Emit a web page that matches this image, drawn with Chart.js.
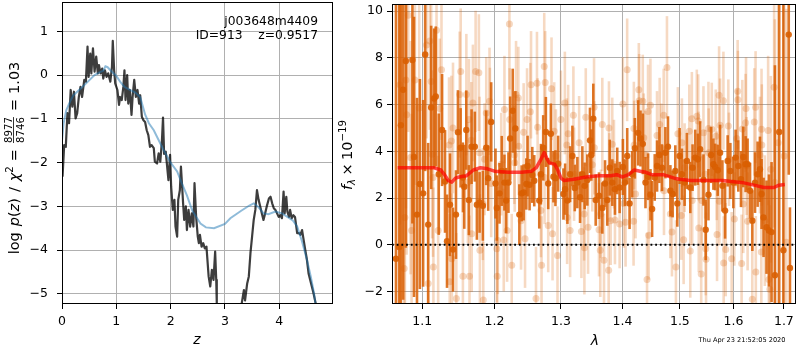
<!DOCTYPE html>
<html>
<head>
<meta charset="utf-8">
<script src="https://cdn.jsdelivr.net/npm/chart.js@4/dist/chart.umd.min.js"></script>
<style>
  html, body { margin: 0; padding: 0; background: #fff; }
  #wrap { position: relative; width: 800px; height: 350px; }
  canvas { position: absolute; top: 0; }
  #pz { left: 0; }
  #spec { left: 330px; }
</style>
</head>
<body>
<div id="wrap">
  <canvas id="pz" width="340" height="350"></canvas>
  <canvas id="spec" width="470" height="350"></canvas>
</div>
<script>
// ---------- redshift probability panel ----------
const zTicks = [0, 1, 2, 3, 4];
const logpTicks = [-5, -4, -3, -2, -1, 0, 1];

// log p(z) from the template fit
const zFit = [0.01,0.04,0.07,0.10,0.13,0.16,0.19,0.22,0.25,0.28,0.31,0.34,0.37,0.41,0.44,0.47,0.49,0.52,0.54,0.57,
  0.60,0.63,0.66,0.68,0.71,0.74,0.76,0.79,0.82,0.85,0.89,0.92,0.935,0.96,0.98,1.02,1.05,1.07,1.10,1.13,
  1.15,1.17,1.20,1.22,1.25,1.28,1.30,1.33,1.36,1.39,1.42,1.44,1.47,1.50,1.53,1.56,1.59,1.62,1.65,1.69,
  1.71,1.75,1.78,1.81,1.84,1.86,1.88,1.91,1.96,1.99,2.01,2.04,2.07,2.09,2.12,2.14,2.17,2.19,2.21,2.23,
  2.25,2.28,2.30,2.33,2.36,2.39,2.42,2.44,2.47,2.50,2.52,2.54,2.57,2.60,2.63,2.66,2.70,2.73,2.76,2.79,
  2.82,2.84,2.85,2.88,2.95,3.05,3.15,3.25,3.29,3.31,3.35,3.37,3.41,3.44,3.47,3.50,3.53,3.56,3.59,3.62,
  3.65,3.68,3.71,3.74,3.77,3.81,3.84,3.87,3.90,3.93,3.96,3.99,4.02,4.05,4.08,4.10,4.13,4.15,4.18,4.20,
  4.23,4.26,4.29,4.33,4.36,4.39,4.42,4.45,4.48,4.51,4.54,4.57,4.60,4.63,4.67,4.69];
const logpFit = [-2.32,-1.6,-1.64,-0.87,-1.1,-0.34,-0.72,-0.38,-0.99,-0.87,-0.50,-0.27,-0.5,-0.11,-0.15,0.65,-0.04,0.49,0.04,0.61,
  0.08,0.42,0.04,0.23,0.04,0.15,-0.08,0.11,-0.04,0.04,-0.15,0.19,0.78,0.11,-0.19,-0.34,-0.68,-0.5,-0.57,-0.27,
  0.11,-0.57,0.0,-0.65,-0.34,-0.91,-0.5,-0.11,-0.5,-0.34,-0.65,-0.46,-0.95,-1.03,-1.07,-1.26,-1.37,-1.64,-1.6,-1.67,
  -1.98,-2.02,-1.79,-1.98,-1.5,-0.97,-1.8,-1.75,-2.4,-1.82,-2.55,-3.08,-2.85,-3.46,-3.69,-2.85,-2.63,-2.09,-2.5,-2.93,
  -3.31,-3.0,-3.54,-3.08,-3.46,-3.16,-3.46,-2.47,-3.24,-3.69,-3.84,-3.65,-3.92,-3.84,-3.96,-3.92,-4.6,-4.83,-4.45,-4.68,
  -4.03,-4.68,-5.21,-6.2,-7.5,-8.0,-7.6,-6.4,-5.6,-5.21,-4.91,-5.15,-4.76,-4.6,-4.07,-3.69,-3.31,-3.08,-2.63,-2.85,
  -3.0,-3.16,-3.31,-3.16,-3.0,-2.82,-2.78,-2.93,-3.04,-3.08,-3.16,-3.24,-3.2,-3.27,-2.66,-3.16,-2.78,-3.12,-3.24,-3.08,
  -3.27,-3.2,-3.24,-3.61,-3.61,-3.65,-3.54,-3.77,-4.0,-4.22,-4.53,-4.68,-4.83,-4.98,-5.21,-5.5];

// smoothed prior-weighted curve
const zSmooth = [0,0.03,0.08,0.15,0.21,0.35,0.5,0.6,0.7,0.76,0.8,0.84,0.9,1.0,1.07,1.15,1.25,1.35,1.44,1.53,
  1.6,1.69,1.87,2.0,2.12,2.2,2.3,2.4,2.55,2.65,2.8,3.0,3.1,3.3,3.45,3.53,3.62,3.71,3.8,3.93,
  4.05,4.15,4.25,4.33,4.42,4.51,4.58,4.64,4.7];
const logpSmooth = [-1.5,-1.1,-0.8,-0.6,-0.46,-0.3,-0.12,0.0,0.07,0.1,0.2,0.18,0.1,-0.02,-0.15,-0.27,-0.34,-0.4,-0.5,-0.9,
  -1.1,-1.26,-1.71,-2.0,-2.2,-2.45,-2.75,-3.1,-3.39,-3.48,-3.5,-3.4,-3.27,-3.1,-2.98,-2.93,-3.02,-3.16,-3.18,-3.12,
  -3.16,-3.24,-3.32,-3.46,-3.8,-4.22,-4.6,-4.98,-5.5];

// ---------- spectrum panel ----------
const lamTicks = [1.1, 1.2, 1.3, 1.4, 1.5, 1.6, 1.7];
const fluxTicks = [-2, 0, 2, 4, 6, 8, 10];

// primary-orientation spectrum
const lamA = [1.0659,1.0700,1.0722,1.0751,1.0786,1.0872,1.0893,1.0932,1.0970,1.1013,1.1040,1.1080,1.1120,1.1160,1.1182,1.1222,1.1267,1.1307,1.1334,1.1375,
  1.1416,1.1457,1.1484,1.1521,1.1553,1.1572,1.1600,1.1636,1.1674,1.1720,1.1749,1.1787,1.1834,1.1882,1.1910,1.1953,1.2015,1.2034,1.2073,1.2106,
  1.2145,1.2170,1.2204,1.2229,1.2267,1.2306,1.2365,1.2399,1.2429,1.2469,1.2488,1.2518,1.2559,1.2589,1.2665,1.2690,1.2725,1.2766,1.2802,1.2843,
  1.2883,1.2914,1.2956,1.3039,1.3065,1.3101,1.3144,1.3180,1.3218,1.3259,1.3302,1.3339,1.3376,1.3419,1.3462,1.3483,1.3516,1.3555,1.3609,1.3664,
  1.3708,1.3746,1.3786,1.3829,1.3873,1.3911,1.3951,1.4006,1.4040,1.4079,1.4119,1.4163,1.4209,1.4265,1.4306,1.4346,1.4392,1.4437,1.4479,1.4507,
  1.4553,1.4594,1.4635,1.4681,1.4741,1.4787,1.4830,1.4870,1.4918,1.4954,1.4995,1.5037,1.5086,1.5127,1.5189,1.5231,1.5280,1.5328,1.5371,1.5432,
  1.5474,1.5525,1.5575,1.5618,1.5650,1.5699,1.5744,1.5788,1.5839,1.5888,1.5940,1.5997,1.6041,1.6093,1.6145,1.6190,1.6235,1.6274,1.6322,1.6367,
  1.6420,1.6471,1.6518,1.6550,1.6590,1.6649,1.6697,1.6750,1.6818,1.6905,1.6990,1.7100,1.7125];
const fluxA = [-0.6,-0.1,5.12,6.64,7.87,7.91,3.76,1.29,2.6,2.2,8.15,0.86,5.88,6.26,6.35,3.02,4.91,2.71,0.15,1.71,
  -0.21,1.29,4.82,4.15,2.88,2.48,4.91,1.91,4.2,4.2,1.71,1.81,1.67,4.15,2.85,5.26,2.62,1.57,2.2,3.16,
  2.66,1.89,2.66,4.55,5.74,4.98,1.29,2.2,2.24,2.6,3.37,2.57,2.99,2.74,1.89,3.02,4.15,4.83,2.62,4.75,
  2.91,2.85,3.47,2.17,2.38,1.89,3.02,3.8,2.43,2.66,2.03,3.02,2.52,2.77,4.47,3.84,5.4,1.91,2.1,1.57,
  2.62,1.91,3.3,2.66,2.38,3.16,2.45,3.33,2.66,3.8,1.77,3.02,4.13,4.79,4.55,4.32,2.66,2.91,2.14,1.53,
  2.88,3.37,3.84,3.3,3.94,4.2,2.31,2.17,3.16,1.77,3.8,3.02,2.66,3.59,2.45,3.3,3.73,3.66,4.09,2.77,
  0.64,2.14,3.84,3.45,3.33,3.19,3.94,2.52,1.46,3.59,3.16,2.66,3.73,3.37,2.81,3.76,3.45,3.45,2.31,1.03,
  2.66,3.02,3.23,2.17,1.17,0.75,0.61,0.54,-1.31,4.83,-0.24,9.0,-1.0];
const errA = [12,12,10,9,8,7,6,5,4.5,4,5,3.5,3.5,3,3,2.6,2.4,2.2,2.0,2.2,
  1.8,1.9,1.8,1.7,1.5,1.8,1.7,1.5,1.6,1.5,1.5,1.3,1.5,1.6,1.4,1.7,1.5,1.4,1.3,1.5,
  1.2,1.4,1.3,1.8,1.8,1.6,1.3,1.2,1.2,1.1,1.3,1.1,1.2,1.1,1.2,1.3,1.4,1.5,1.1,1.3,
  1.1,1.2,1.2,1.1,1.1,1.0,1.2,1.3,1.0,1.1,1.1,1.2,1.0,1.1,1.4,1.1,1.5,1.1,1.0,1.1,
  1.0,1.1,1.2,1.0,1.1,1.0,1.1,1.2,1.0,1.2,1.1,1.0,1.3,1.4,1.2,1.3,1.1,1.0,1.1,1.2,
  1.0,1.1,1.2,1.0,1.1,1.3,1.1,1.0,1.1,1.0,1.2,1.1,1.0,1.2,1.1,1.0,1.2,1.1,1.2,1.1,
  1.3,1.1,1.2,1.1,1.0,1.1,1.2,1.1,1.2,1.1,1.2,1.1,1.2,1.1,1.2,1.3,1.2,1.1,1.2,1.3,
  1.3,1.4,1.4,1.5,1.7,2.0,2.4,3.0,9,9,12,6,2.6];

// second-orientation spectrum
const lamB = [1.0710,1.0765,1.0774,1.0787,1.0796,1.0817,1.0848,1.0861,1.0905,1.0961,1.1058,1.1080,1.1102,1.1120,1.1132,1.1145,1.1150,1.1192,1.1214,1.1236,
  1.1259,1.1362,1.1371,1.1394,1.1400,1.1416,1.1462,1.1508,1.1522,1.1553,1.1601,1.1623,1.1637,1.1645,1.1670,1.1676,1.1693,1.1731,1.1777,1.1787,
  1.1792,1.1834,1.1840,1.1858,1.1882,1.1929,1.1935,1.1953,1.2034,1.2040,1.2049,1.2098,1.2135,1.2145,1.2184,1.2218,1.2222,1.2252,1.2291,1.2296,
  1.2316,1.2350,1.2355,1.2390,1.2429,1.2450,1.2480,1.2529,1.2540,1.2615,1.2630,1.2640,1.2690,1.2700,1.2741,1.2746,1.2756,1.2802,1.2853,1.2869,
  1.2895,1.2921,1.2946,1.2999,1.3061,1.3092,1.3097,1.3113,1.3144,1.3196,1.3207,1.3287,1.3324,1.3367,1.3372,1.3394,1.3431,1.3500,1.3528,1.3533,
  1.3609,1.3630,1.3640,1.3663,1.3691,1.3768,1.3773,1.3778,1.3801,1.3828,1.3856,1.3873,1.3951,1.4006,1.4023,1.4051,1.4078,1.4187,1.4192,1.4197,
  1.4221,1.4277,1.4283,1.4345,1.4362,1.4391,1.4419,1.4436,1.4448,1.4478,1.4593,1.4640,1.4670,1.4711,1.4716,1.4769,1.4829,1.4858,1.4929,1.4964,
  1.5026,1.5037,1.5068,1.5086,1.5171,1.5189,1.5218,1.5224,1.5309,1.5335,1.5340,1.5345,1.5390,1.5401,1.5432,1.5463,1.5475,1.5480,1.5525,1.5530,
  1.5587,1.5662,1.5681,1.5686,1.5725,1.5730,1.5744,1.5807,1.5812,1.5851,1.5901,1.5914,1.5965,1.6016,1.6061,1.6080,1.6085,1.6157,1.6171,1.6190,
  1.6235,1.6243,1.6255,1.6274,1.6366,1.6405,1.6431,1.6436,1.6518,1.6545,1.6549,1.6555,1.6615,1.6681,1.6695,1.6715,1.6735,1.6802,1.6816,1.6882,
  1.7005,1.7052];
const fluxB = [6.85,-1.02,1.17,7.06,5.57,9.83,3.73,0.61,7.06,5.86,8.55,-1.66,8.72,6.99,3.87,2.88,-0.95,9.19,0.61,5.83,
  7.49,4.27,-1.59,4.44,-0.6,5.0,-2.3,6.43,7.42,-1.35,6.43,2.66,5.36,-1.35,4.47,0.47,6.07,7.42,7.37,3.94,
  -0.24,1.74,-2.37,3.66,5.64,6.14,5.28,2.62,-0.17,-1.35,0.18,3.45,0.2,5.79,0.61,9.45,5.36,-0.88,3.84,3.51,
  6.43,6.28,4.22,1.03,4.82,0.25,5.36,5.69,6.85,-2.3,6.92,5.03,1.46,-0.88,7.63,2.88,6.95,0.82,6.68,0.47,
  4.86,3.8,-0.46,5.36,6.07,4.27,1.17,4.75,0.61,5.54,3.02,4.37,0.57,1.32,-0.13,5.46,0.75,3.42,5.89,4.15,
  0.64,-0.24,1.32,5.15,-0.67,-1.09,5.0,2.88,1.03,4.3,3.45,1.06,0.89,6.03,1.77,0.96,7.49,1.0,4.98,4.27,
  2.17,6.64,6.17,6.14,4.58,3.84,-1.49,5.71,0.4,5.97,4.68,5.15,4.15,5.54,2.31,7.59,1.32,0.54,-0.95,4.75,
  1.25,4.37,0.21,3.3,4.86,-0.27,5.4,1.89,5.5,5.3,3.8,0.72,-1.26,1.89,4.79,3.02,-0.17,-0.62,4.98,3.94,
  4.94,4.65,2.95,0.44,6.4,1.86,5.12,6.17,-0.78,-0.21,5.08,3.66,-0.6,1.1,4.55,6.57,6.21,-0.81,4.96,1.74,
  5.22,5.83,3.37,1.0,-2.34,5.26,5.89,-1.17,3.84,-0.31,4.94,4.27,1.03,4.89,-1.49,-1.91,3.23,6.74,2.66,4.37,
  3.8,0.11];
const errB = [6,7,6,5.5,6,5,5,5,4.5,4.5,4,4,3.8,3.6,3.6,3.4,3.4,3.2,3.2,3.0,
  3.0,2.9,2.9,2.8,2.8,2.8,2.8,2.7,2.7,2.7,2.6,2.6,2.6,2.6,2.5,2.5,2.5,2.6,2.5,2.4,
  2.4,2.4,2.5,2.4,2.4,2.3,2.3,2.3,2.3,2.4,2.3,2.2,2.2,2.3,2.2,2.8,2.2,2.2,2.1,2.1,
  2.3,2.2,2.1,2.1,2.1,2.1,2.2,2.1,2.3,2.2,2.2,2.1,2.0,2.1,2.3,2.0,2.2,2.0,2.2,2.0,
  2.1,2.0,2.1,2.1,2.2,2.0,2.0,2.1,2.0,2.1,2.0,2.0,2.0,2.0,2.0,2.1,2.0,2.0,2.1,2.0,
  2.0,2.0,1.9,2.0,2.0,2.0,2.0,1.9,1.9,2.0,1.9,1.9,1.9,2.0,1.9,1.9,2.2,1.9,2.0,1.9,
  1.9,2.0,2.0,2.0,1.9,1.9,2.0,2.0,1.9,2.0,1.9,2.0,1.9,2.0,1.9,2.2,1.9,1.9,2.0,2.0,
  1.9,1.9,1.9,1.9,2.0,2.0,2.0,1.9,2.0,2.0,1.9,1.9,2.0,1.9,2.0,1.9,2.0,2.0,2.0,1.9,
  2.0,2.0,1.9,2.0,2.1,1.9,2.0,2.1,2.0,2.0,2.0,2.0,2.0,2.0,2.1,2.2,2.1,2.1,2.1,2.1,
  2.1,2.2,2.1,2.1,2.3,2.3,2.4,2.4,2.5,2.6,2.6,2.6,2.8,3.2,3.4,3.6,4,6,7,8,
  9,10];

// best-fit template
const lamModel = [1.068,1.08,1.10,1.115,1.125,1.13,1.135,1.14,1.145,1.15,1.16,1.17,1.18,1.19,1.20,1.22,1.24,1.255,1.262,1.268,
  1.274,1.278,1.282,1.29,1.295,1.30,1.305,1.32,1.34,1.36,1.38,1.39,1.40,1.41,1.42,1.43,1.44,1.45,1.47,1.49,
  1.50,1.52,1.55,1.58,1.60,1.62,1.64,1.66,1.68,1.69,1.702];
const fluxModel = [3.3,3.3,3.3,3.3,3.2,3.0,2.75,2.68,2.85,2.9,2.95,3.2,3.3,3.25,3.15,3.1,3.1,3.15,3.3,3.6,
  3.95,3.7,3.5,3.45,3.2,2.85,2.75,2.8,2.9,2.95,2.95,3.0,2.9,3.0,3.2,3.15,3.1,3.0,3.0,2.85,
  2.8,2.75,2.75,2.75,2.7,2.65,2.55,2.45,2.45,2.55,2.58];

const FONT = '"DejaVu Sans", "Liberation Sans", sans-serif';
const ORANGE = '217,95,2';
const minusFmt = v => (v < 0 ? '\u2212' + Math.abs(v) : String(v));

// frame drawn on all four sides, like axes spines
const framePlugin = {
  id: 'frame',
  afterDraw(chart) {
    const { ctx, chartArea: a } = chart;
    ctx.save();
    ctx.strokeStyle = '#000';
    ctx.lineWidth = 1;
    ctx.strokeRect(Math.round(a.left) + 0.5, Math.round(a.top) + 0.5,
      Math.round(a.right - a.left) - 1, Math.round(a.bottom - a.top) - 1);
    ctx.restore();
  }
};

// text runs made of pieces {t, font, dy}, {gap} or {frac:[num, den], font}
function pieceWidth(ctx, p) {
  if (p.gap) return p.gap;
  ctx.font = p.font;
  if (p.frac) return Math.max(ctx.measureText(p.frac[0]).width, ctx.measureText(p.frac[1]).width) + 2;
  return ctx.measureText(p.t).width;
}
function runWidth(ctx, pieces) {
  return pieces.reduce((w, p) => w + pieceWidth(ctx, p), 0);
}
function drawRun(ctx, pieces, x, y) {
  for (const p of pieces) {
    const w = pieceWidth(ctx, p);
    if (p.frac) {
      ctx.font = p.font;
      ctx.textAlign = 'center';
      ctx.fillText(p.frac[0], x + w / 2, y - 7.4);
      ctx.fillText(p.frac[1], x + w / 2, y + 4.6);
      ctx.fillRect(x + 1, y - 5.8, w - 2, 0.8);
      ctx.textAlign = 'left';
    } else if (p.t) {
      ctx.font = p.font;
      ctx.fillText(p.t, x, y + (p.dy || 0));
    }
    x += w;
  }
}

const N = '14.5px ' + FONT, I = 'italic 14.5px ' + FONT, S = '10.2px ' + FONT, SI = 'italic 10px ' + FONT;

const pzText = {
  id: 'pzText',
  afterDraw(chart) {
    const ctx = chart.ctx;
    ctx.save();
    ctx.fillStyle = '#000';
    ctx.textBaseline = 'alphabetic';
    ctx.font = '12.3px ' + FONT;
    ctx.textAlign = 'right';
    ctx.fillText('j003648m4409', 318, 25);
    ctx.fillText('ID=913    z=0.9517', 318, 39);
    ctx.textAlign = 'center';
    ctx.font = 'italic 14px ' + FONT;
    ctx.fillText('z', 197, 344);
    const pieces = [
      { t: 'log', font: N }, { gap: 6 }, { t: 'p', font: I }, { t: '(', font: N }, { t: 'z', font: I },
      { t: ')', font: N }, { gap: 6 }, { t: '/', font: N }, { gap: 6 }, { t: '\u03c7', font: I },
      { t: '2', font: S, dy: -6 }, { gap: 5 }, { t: '=', font: N }, { gap: 5 },
      { frac: ['8977', '8746'], font: S }, { gap: 5 }, { t: '=', font: N }, { gap: 5 }, { t: '1.03', font: N }
    ];
    ctx.textAlign = 'left';
    const w = runWidth(ctx, pieces);
    ctx.translate(19, 158);
    ctx.rotate(-Math.PI / 2);
    drawRun(ctx, pieces, -w / 2, 0);
    ctx.restore();
  }
};

const specText = {
  id: 'specText',
  afterDraw(chart) {
    const ctx = chart.ctx;
    ctx.save();
    ctx.fillStyle = '#000';
    ctx.textBaseline = 'alphabetic';
    ctx.textAlign = 'center';
    ctx.font = 'italic 14px ' + FONT;
    ctx.fillText('\u03bb', 265, 345);
    ctx.font = '6.6px ' + FONT;
    ctx.fillText('Thu Apr 23 21:52:05 2020', 412, 342);
    const pieces = [
      { t: 'f', font: I }, { t: '\u03bb', font: SI, dy: 3 }, { gap: 3.5 },
      { t: '\u00d7', font: N }, { gap: 3.5 }, { t: '10', font: N }, { t: '\u221219', font: S, dy: -6 }
    ];
    ctx.textAlign = 'left';
    const w = runWidth(ctx, pieces);
    ctx.translate(22, 155);
    ctx.rotate(-Math.PI / 2);
    drawRun(ctx, pieces, -w / 2, 0);
    ctx.restore();
  }
};

const common = {
  animation: false,
  responsive: false,
  events: [],
  plugins: { legend: { display: false }, tooltip: { enabled: false } }
};
const gridOpts = { color: '#b0b0b0', lineWidth: 1, tickColor: '#000', tickLength: 5, tickWidth: 1 };
// fixed axis boxes so the plotting area sits at an exact place
const fixBox = size => function (s) {
  if (s.isHorizontal()) s.height = size; else s.width = size;
  s.paddingTop = 0; s.paddingBottom = 0; s.paddingLeft = 0; s.paddingRight = 0;
};

new Chart(document.getElementById('pz'), {
  type: 'line',
  data: {
    datasets: [
      { data: zSmooth.map((z, i) => ({ x: z, y: logpSmooth[i] })), borderColor: 'rgba(31,119,180,0.5)',
        borderWidth: 2, pointRadius: 0, clip: 0, order: 0 },
      { data: zFit.map((z, i) => ({ x: z, y: logpFit[i] })), borderColor: 'rgba(0,0,0,0.76)',
        borderWidth: 2.2, pointRadius: 0, clip: 0, order: 1, borderJoinStyle: 'round' }
    ]
  },
  options: Object.assign({}, common, {
    layout: { padding: { top: 2, right: 7, left: 0, bottom: 0 } },
    scales: {
      x: { type: 'linear', min: 0, max: 4.99,
        afterFit: fixBox(46),
        afterBuildTicks(s) { s.ticks = zTicks.map(v => ({ value: v })); },
        ticks: { font: { family: FONT, size: 12.5 }, color: '#000', padding: 5, maxRotation: 0, callback: minusFmt },
        grid: gridOpts, border: { display: false } },
      y: { type: 'linear', min: -5.23, max: 1.67,
        afterFit: fixBox(62),
        afterBuildTicks(s) { s.ticks = logpTicks.map(v => ({ value: v })); },
        ticks: { font: { family: FONT, size: 12.5 }, color: '#000', padding: 9, callback: minusFmt },
        grid: gridOpts, border: { display: false } }
    }
  }),
  plugins: [framePlugin, pzText]
});

const pairs = (xs, ys) => xs.map((x, i) => ({ x, y: ys[i] }));
const bars = (xs, ys, es) => xs.map((x, i) => ({ x, y: [ys[i] - es[i], ys[i] + es[i]] }));

new Chart(document.getElementById('spec'), {
  type: 'scatter',
  data: {
    datasets: [
      { type: 'bar', data: bars(lamB, fluxB, errB), backgroundColor: `rgba(${ORANGE},0.24)`,
        barThickness: 2.6, grouped: false, borderWidth: 0, inflateAmount: 0, clip: 0, order: 6 },
      { type: 'scatter', data: pairs(lamB, fluxB), backgroundColor: `rgba(${ORANGE},0.25)`,
        pointRadius: 3.5, borderWidth: 0, clip: 0, order: 5 },
      { type: 'bar', data: bars(lamA, fluxA, errA), backgroundColor: `rgba(${ORANGE},0.85)`,
        barThickness: 2.6, grouped: false, borderWidth: 0, inflateAmount: 0, clip: 0, order: 4 },
      { type: 'scatter', data: pairs(lamA, fluxA), backgroundColor: `rgba(${ORANGE},0.9)`,
        pointRadius: 3.2, borderWidth: 0, clip: 0, order: 3 },
      { type: 'line', data: pairs(lamModel, fluxModel), borderColor: 'rgba(255,0,0,0.7)',
        borderWidth: 3.5, pointRadius: 0, clip: 0, order: 2, borderJoinStyle: 'round' },
      { type: 'line', data: [{ x: 1.0608, y: 0 }, { x: 1.725, y: 0 }], borderColor: '#000',
        borderWidth: 2, borderDash: [1.8, 2.9], pointRadius: 0, clip: 0, order: 1 }
    ]
  },
  options: Object.assign({}, common, {
    layout: { padding: { top: 2, right: 2, left: 0, bottom: 0 } },
    scales: {
      x: { type: 'logarithmic', min: 1.0608, max: 1.725, offset: false,
        afterFit: fixBox(46),
        afterBuildTicks(s) { s.ticks = lamTicks.map(v => ({ value: v })); },
        ticks: { font: { family: FONT, size: 12.5 }, color: '#000', padding: 5, maxRotation: 0, autoSkip: false,
          callback: v => Number(v).toFixed(1) },
        grid: Object.assign({ offset: false }, gridOpts), border: { display: false } },
      y: { type: 'linear', min: -2.54, max: 10.31,
        afterFit: fixBox(62),
        afterBuildTicks(s) { s.ticks = fluxTicks.map(v => ({ value: v })); },
        ticks: { font: { family: FONT, size: 12.5 }, color: '#000', padding: 4, callback: minusFmt },
        grid: gridOpts, border: { display: false } }
    }
  }),
  plugins: [framePlugin, specText]
});
</script>
</body>
</html>
